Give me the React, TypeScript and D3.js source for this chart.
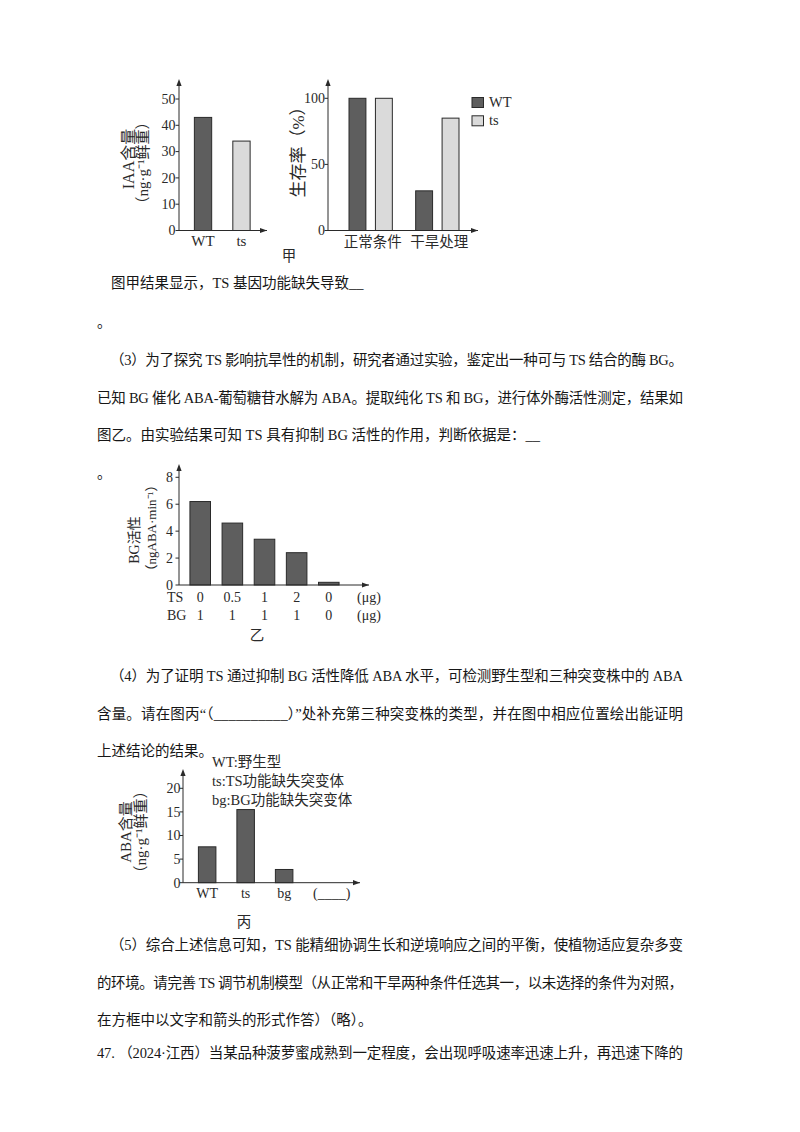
import React from 'react';
import * as d3 from 'd3';

// 图甲 (left): IAA 含量
const iaaGenotypes = ['WT', 'ts'];
const iaaValues = [43, 34];
const iaaTicks = [0, 10, 20, 30, 40, 50];

// 图甲 (right): 生存率
const survivalConditions = ['正常条件', '干旱处理'];
const survivalGenotypes = ['WT', 'ts'];
const survivalWT = [100, 30];
const survivalTs = [100, 85];
const survivalTicks = [0, 50, 100];

// 图乙: BG 活性
const bgTsAmounts = ['0', '0.5', '1', '2', '0'];
const bgBgAmounts = ['1', '1', '1', '1', '0'];
const bgActivity = [6.2, 4.6, 3.4, 2.4, 0.2];
const bgTicks = [0, 2, 4, 6, 8];

// 图丙: ABA 含量
const abaGenotypes = ['WT', 'ts', 'bg', '(____)'];
const abaValues = [7.6, 15.5, 2.8];
const abaTicks = [0, 5, 10, 15, 20];
const abaLegend = ['WT:野生型', 'ts:TS功能缺失突变体', 'bg:BG功能缺失突变体'];

// page text
const para2 = ['图甲结果显示，TS 基因功能缺失导致__', '。'];
const para3 = [
  '（3）为了探究 TS 影响抗旱性的机制，研究者通过实验，鉴定出一种可与 TS 结合的酶 BG。',
  '已知 BG 催化 ABA-葡萄糖苷水解为 ABA。提取纯化 TS 和 BG，进行体外酶活性测定，结果如',
  '图乙。由实验结果可知 TS 具有抑制 BG 活性的作用，判断依据是：__',
  '。',
];
const para4 = [
  '（4）为了证明 TS 通过抑制 BG 活性降低 ABA 水平，可检测野生型和三种突变株中的 ABA',
  '含量。请在图丙“（__________）”处补充第三种突变株的类型，并在图中相应位置绘出能证明',
  '上述结论的结果。',
];
const para5 = [
  '（5）综合上述信息可知，TS 能精细协调生长和逆境响应之间的平衡，使植物适应复杂多变',
  '的环境。请完善 TS 调节机制模型（从正常和干旱两种条件任选其一，以未选择的条件为对照，',
  '在方框中以文字和箭头的形式作答）（略）。',
];
const q47 = '47. （2024·江西）当某品种菠萝蜜成熟到一定程度，会出现呼吸速率迅速上升，再迅速下降的';

const FONT = '"Liberation Serif", "Noto Sans CJK SC", serif';
const INK = '#161616';
const AXIS = '#2a2a2a';
const DARK = '#5e5e5e';
const LIGHT = '#dadada';
const RIGHT = 683;

function Frame({ x0, x1, y0, yTop }: { x0: number; x1: number; y0: number; yTop: number }) {
  return (
    <g>
      <line x1={x0} y1={y0} x2={x1} y2={y0} stroke={AXIS} strokeWidth={1} />
      <line x1={x0} y1={y0} x2={x0} y2={yTop + 3} stroke={AXIS} strokeWidth={1} />
      <path d={`M${x0},${yTop} l-2.6,7 h5.2 z`} fill={AXIS} />
      <path d={`M${x1},${y0} l-7,-2.6 v5.2 z`} fill={AXIS} />
    </g>
  );
}

function YTicks({ y, ticks, x0, gap = 4, size = 14 }: any) {
  return (
    <g>
      {ticks.map((t: number) => (
        <g key={t}>
          <line x1={x0 - 3.5} x2={x0} y1={y(t)} y2={y(t)} stroke={AXIS} />
          <text x={x0 - gap} y={y(t) + 4.8} textAnchor="end" fontSize={size} fill={AXIS}>{t}</text>
        </g>
      ))}
    </g>
  );
}

function VLabel({ x, y, text, size = 15 }: any) {
  return (
    <text transform={`translate(${x},${y}) rotate(-90)`} textAnchor="middle" dominantBaseline="central" fontSize={size} fill={AXIS}>
      {text}
    </text>
  );
}

function Lines({ lines, y0, step, x0, indentX, justify }: any) {
  return (
    <g>
      {lines.map((s: string, i: number) => {
        const x = i === 0 && indentX ? indentX : x0;
        const just = justify.includes(i);
        return (
          <text key={i} x={x} y={y0 + i * step + 5} fontSize={14.5} fill={INK}
            textLength={just ? RIGHT - x : undefined} lengthAdjust={just ? 'spacing' : undefined}>
            {s}
          </text>
        );
      })}
    </g>
  );
}

export default function App() {
  // 图甲 left
  const x1 = d3.scaleBand<string>().domain(iaaGenotypes).range([179, 265.5]).paddingInner(0.55).paddingOuter(0.4);
  const y1 = d3.scaleLinear().domain([0, 50]).range([230.5, 99]);

  // 图甲 right
  const gx = d3.scaleBand<string>().domain(survivalConditions).range([328, 480]).paddingInner(0.35).paddingOuter(0.315);
  const ix = d3.scaleBand<string>().domain(survivalGenotypes).range([0, gx.bandwidth()]).paddingInner(0.36);
  const y2 = d3.scaleLinear().domain([0, 100]).range([230.5, 98.3]);
  const survival = survivalConditions.flatMap((c, i) => [
    { c, g: 'WT', v: survivalWT[i] },
    { c, g: 'ts', v: survivalTs[i] },
  ]);
  const fill = d3.scaleOrdinal<string, string>().domain(survivalGenotypes).range([DARK, LIGHT]);

  // 图乙
  const idx = d3.range(bgActivity.length).map(String);
  const x3 = d3.scaleBand<string>().domain(idx).range([179, 350]).paddingInner(0.36).paddingOuter(0.34);
  const y3 = d3.scaleLinear().domain([0, 8]).range([585, 477.3]);

  // 图丙
  const x4 = d3.scaleBand<string>().domain(abaGenotypes).range([183, 346.8]).paddingInner(0.545).paddingOuter(0.4);
  const y4 = d3.scaleLinear().domain([0, 20]).range([882.7, 788.3]);

  return (
    <svg width={800} height={1132} style={{ position: 'absolute', left: 0, top: 0 }} fontFamily={FONT}>
      <rect width={800} height={1132} fill="#fff" />

      {/* 图甲 left */}
      <g>
        {iaaValues.map((v, i) => (
          <rect key={i} x={x1(iaaGenotypes[i])} y={y1(v)} width={x1.bandwidth()} height={y1(0) - y1(v)}
            fill={i === 0 ? DARK : LIGHT} stroke={AXIS} strokeWidth={1} />
        ))}
        <Frame x0={179} x1={267} y0={230.5} yTop={79} />
        <YTicks y={y1} ticks={iaaTicks} x0={179} gap={3.5} />
        {iaaGenotypes.map((g) => (
          <text key={g} x={x1(g)! + x1.bandwidth() / 2} y={246} textAnchor="middle" fontSize={15} fill={AXIS}>{g}</text>
        ))}
        <VLabel x={128} y={159} text="IAA含量" size={16} />
        <VLabel x={143} y={163} text="（ng·g⁻¹鲜重）" size={15} />
        <text x={289} y={261} textAnchor="middle" fontSize={14.5} fill={AXIS}>甲</text>
      </g>

      {/* 图甲 right */}
      <g>
        {survival.map((d) => (
          <rect key={d.c + d.g} x={gx(d.c)! + ix(d.g)!} y={y2(d.v)} width={ix.bandwidth()} height={y2(0) - y2(d.v)}
            fill={fill(d.g)} stroke={AXIS} strokeWidth={1} />
        ))}
        <Frame x0={328} x1={478} y0={230.5} yTop={79} />
        <YTicks y={y2} ticks={survivalTicks} x0={328} gap={3} />
        {survivalConditions.map((c) => (
          <text key={c} x={gx(c)! + gx.bandwidth() / 2 + 2} y={247} textAnchor="middle" fontSize={14.5} fill={AXIS}>{c}</text>
        ))}
        <VLabel x={298} y={148} text="生存率（%）" size={17} />
        {survivalGenotypes.map((g, i) => (
          <g key={g}>
            <rect x={472} y={97.5 + i * 18.3} width={11.5} height={10} fill={fill(g)} stroke={AXIS} />
            <text x={489} y={107 + i * 18.3} fontSize={14.5} fill={AXIS}>{g}</text>
          </g>
        ))}
      </g>

      <Lines lines={para2} y0={283} step={38.5} x0={97} indentX={111} justify={[]} />
      <Lines lines={para3} y0={360} step={37.5} x0={97} indentX={110} justify={[0, 1]} />

      {/* 图乙 */}
      <g>
        {bgActivity.map((v, i) => (
          <rect key={i} x={x3(idx[i])} y={y3(v)} width={x3.bandwidth()} height={y3(0) - y3(v)}
            fill={DARK} stroke={AXIS} strokeWidth={1} />
        ))}
        <Frame x0={179} x1={369} y0={585} yTop={464} />
        <YTicks y={y3} ticks={bgTicks} x0={179} gap={6} />
        <text x={167} y={602} fontSize={14} fill={AXIS}>TS</text>
        <text x={167} y={620} fontSize={14} fill={AXIS}>BG</text>
        {idx.map((k, i) => (
          <g key={k}>
            <text x={x3(k)! + x3.bandwidth() / 2} y={602} textAnchor="middle" fontSize={14} fill={AXIS}>{bgTsAmounts[i]}</text>
            <text x={x3(k)! + x3.bandwidth() / 2} y={620} textAnchor="middle" fontSize={14} fill={AXIS}>{bgBgAmounts[i]}</text>
          </g>
        ))}
        <text x={357} y={602} fontSize={14} fill={AXIS}>(μg)</text>
        <text x={357} y={620} fontSize={14} fill={AXIS}>(μg)</text>
        <VLabel x={134} y={540} text="BG活性" size={14} />
        <VLabel x={151} y={528} text="（ngABA·min⁻¹）" size={13} />
        <text x={257} y={640} textAnchor="middle" fontSize={14.5} fill={AXIS}>乙</text>
      </g>

      <Lines lines={para4} y0={676} step={37.5} x0={97} indentX={110} justify={[0, 1]} />

      {/* 图丙 */}
      <g>
        {abaValues.map((v, i) => (
          <rect key={i} x={x4(abaGenotypes[i])} y={y4(v)} width={x4.bandwidth()} height={y4(0) - y4(v)}
            fill={DARK} stroke={AXIS} strokeWidth={1} />
        ))}
        <Frame x0={183} x1={360} y0={882.7} yTop={769} />
        <YTicks y={y4} ticks={abaTicks} x0={183} gap={2.5} />
        {abaGenotypes.map((g, i) => (
          <text key={g} x={x4(g)! + x4.bandwidth() / 2 + (i === 3 ? 9 : 0)} y={898} textAnchor="middle" fontSize={14} fill={AXIS}>{g}</text>
        ))}
        {abaLegend.map((s, i) => (
          <text key={s} x={212} y={766.5 + i * 19.3} fontSize={14.5} fill={AXIS}>{s}</text>
        ))}
        <VLabel x={126} y={832} text="ABA含量" size={15} />
        <VLabel x={141} y={832} text="（ng·g⁻¹鲜重）" size={15} />
        <text x={244} y={927} textAnchor="middle" fontSize={14.5} fill={AXIS}>丙</text>
      </g>

      <Lines lines={para5} y0={945} step={37.5} x0={97} indentX={110} justify={[0, 1]} />
      <Lines lines={[q47]} y0={1053} step={0} x0={97} justify={[0]} />
    </svg>
  );
}
